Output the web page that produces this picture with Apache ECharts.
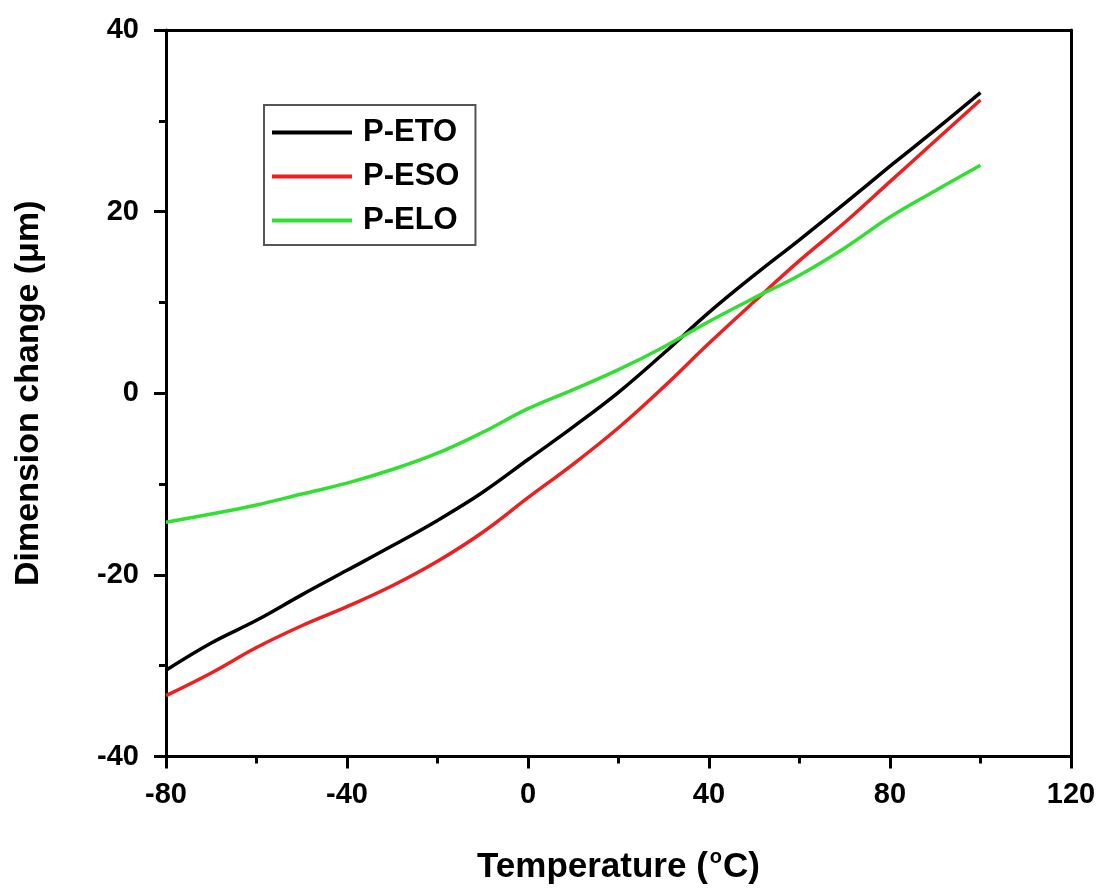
<!DOCTYPE html>
<html>
<head>
    <meta charset="utf-8">
    <script src="https://cdn.jsdelivr.net/npm/echarts@6/dist/echarts.min.js"></script>
    <style type="text/css">
        html, body { margin: 0; padding: 0; background: #fff; }
        #main { width: 1104px; height: 890px; }
    </style>
</head>
<body>
    <div id="main"></div>
    <script>
        // temperature (°C), one point every 10 degrees
        var temps = [-80, -70, -60, -50, -40, -30, -20, -10, 0, 10, 20, 30, 40, 50, 60, 70, 80, 90, 100];
        var eto = [-30.5, -27.5, -25.0, -22.2, -19.5, -16.8, -14.0, -10.9, -7.3, -3.7, 0.1, 4.4, 8.9, 13.0, 16.9, 20.9, 25.0, 29.0, 33.1];
        var eso = [-33.3, -30.8, -28.0, -25.6, -23.5, -21.2, -18.5, -15.3, -11.5, -7.8, -3.8, 0.7, 5.5, 10.1, 14.6, 18.8, 23.3, 27.8, 32.3];
        var elo = [-14.2, -13.3, -12.3, -11.1, -9.9, -8.4, -6.6, -4.3, -1.7, 0.4, 2.6, 5.1, 7.9, 10.5, 13.0, 16.0, 19.4, 22.3, 25.1];
        var seriesNames = ['P-ETO', 'P-ESO', 'P-ELO'];
        var xTicks = { min: -80, max: 120, step: 40 };
        var yTicks = { min: -40, max: 40, step: 20 };

        var FONT = '"Liberation Sans", Arial, sans-serif';

        function pairs(ys) {
            return temps.map(function (t, i) { return [t, ys[i]]; });
        }

        var chart = echarts.init(document.getElementById('main'));

        var axisLine = { show: true, onZero: false, lineStyle: { color: '#000', width: 3 } };
        var tick = { show: true, inside: false, length: 12, lineStyle: { width: 3, color: '#000' } };
        var minor = { show: true, splitNumber: 2, length: 7, lineStyle: { width: 3, color: '#000' } };
        var tickLabel = { fontFamily: FONT, fontSize: 29, fontWeight: 'bold', color: '#000' };

        var option = {
            animation: false,
            backgroundColor: '#fff',
            grid: { left: 166, top: 30, right: 33, bottom: 131 },
            legend: {
                data: seriesNames,
                orient: 'vertical',
                left: 264,
                top: 105,
                padding: [12, 16, 9, 8],
                itemGap: 13,
                itemWidth: 80,
                itemHeight: 4,
                icon: 'rect',
                borderColor: '#555',
                borderWidth: 2,
                textStyle: { fontFamily: FONT, fontSize: 31, fontWeight: 'bold', color: '#000', padding: [0, 0, 0, 6] }
            },
            xAxis: [{
                type: 'value',
                min: xTicks.min,
                max: xTicks.max,
                interval: xTicks.step,
                axisLine: axisLine,
                axisTick: tick,
                minorTick: minor,
                splitLine: { show: false },
                axisLabel: Object.assign({ margin: 24 }, tickLabel),
                name: '{a|Temperature (}{s|o}{a|C)}',
                nameLocation: 'middle',
                nameGap: 91,
                nameTextStyle: {
                    rich: {
                        a: { fontFamily: FONT, fontSize: 35, fontWeight: 'bold', color: '#000', lineHeight: 40 },
                        s: { fontFamily: FONT, fontSize: 20, fontWeight: 'bold', color: '#000', lineHeight: 20, verticalAlign: 'top', padding: [0, 1, 0, 2] }
                    }
                }
            }, {
                type: 'value',
                position: 'top',
                min: xTicks.min,
                max: xTicks.max,
                axisLine: axisLine,
                axisTick: { show: false },
                axisLabel: { show: false },
                splitLine: { show: false }
            }],
            yAxis: [{
                type: 'value',
                min: yTicks.min,
                max: yTicks.max,
                interval: yTicks.step,
                axisLine: axisLine,
                axisTick: tick,
                minorTick: minor,
                splitLine: { show: false },
                axisLabel: Object.assign({ margin: 27 }, tickLabel),
                name: 'Dimension change (μm)',
                nameLocation: 'middle',
                nameGap: 120,
                nameTextStyle: { fontFamily: FONT, fontSize: 34, fontWeight: 'bold', color: '#000' }
            }, {
                type: 'value',
                position: 'right',
                min: yTicks.min,
                max: yTicks.max,
                axisLine: axisLine,
                axisTick: { show: false },
                axisLabel: { show: false },
                splitLine: { show: false }
            }],
            series: [
                { name: seriesNames[0], type: 'line', data: pairs(eto), smooth: 0.4, showSymbol: false, color: '#000', lineStyle: { width: 3.5 } },
                { name: seriesNames[1], type: 'line', data: pairs(eso), smooth: 0.4, showSymbol: false, color: '#ec2020', lineStyle: { width: 3.5 } },
                { name: seriesNames[2], type: 'line', data: pairs(elo), smooth: 0.4, showSymbol: false, color: '#30e030', lineStyle: { width: 3.5 } }
            ]
        };
        chart.setOption(option);
    </script>
</body>
</html>
